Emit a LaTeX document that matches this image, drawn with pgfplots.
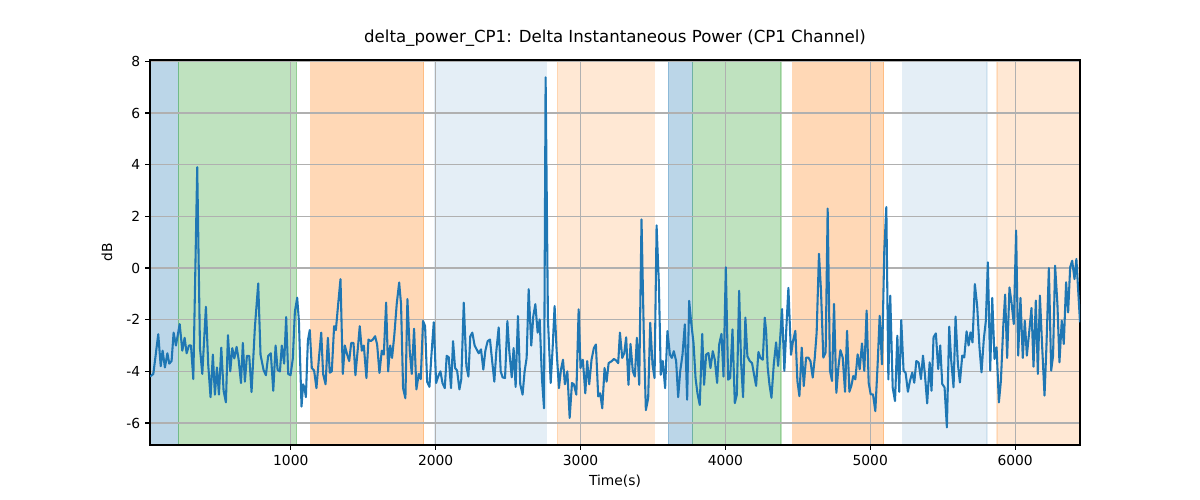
\documentclass[border=0pt]{standalone}
\usepackage{pgfplots}
\pgfplotsset{compat=1.18}
\usepackage{fontspec}
\setmainfont{DejaVu Sans}
\definecolor{tabblue}{RGB}{31,119,180}
\definecolor{tabgreen}{RGB}{44,160,44}
\definecolor{taborange}{RGB}{255,127,14}
\definecolor{gridgray}{RGB}{176,176,176}
\begin{document}
\begin{tikzpicture}
\begin{axis}[
  set layers,
  at={(0,0)}, anchor=south west,
  scale only axis, width=9.3in, height=3.85in,
  xmin=28, xmax=6448, ymin=-6.85, ymax=8.05,
  xtick={1000,2000,3000,4000,5000,6000},
  ytick={-6,-4,-2,0,2,4,6,8},
  xtick pos=lower, ytick pos=left,
  tick align=outside, major tick length=3.5pt,
  tick style={black, line width=0.8pt},
  axis line style={line width=0.8pt},
  grid=major, grid style={gridgray, line width=0.8pt},
  /pgf/number format/assume math mode=true,
  /pgf/number format/set thousands separator={},
  tick label style={font=\fontsize{10}{12}\selectfont},
  title={delta\_power\_CP1: Delta Instantaneous Power (CP1 Channel)},
  title style={at={(axis description cs:0.5,1.0364)}, anchor=center, font=\fontsize{12}{14}\selectfont},
  xlabel={Time(s)},
  xlabel style={at={(axis description cs:0.5,-0.0935)}, anchor=center, font=\fontsize{10}{12}\selectfont},
  ylabel={dB},
  ylabel style={at={(axis description cs:-0.0462,0.5)}, anchor=center, rotate=0, font=\fontsize{10}{12}\selectfont},
]
\addplot[on layer=axis background, fill=tabblue, fill opacity=0.3, draw=tabblue, draw opacity=0.3, line width=1pt, forget plot] coordinates {(28,-6.85) (223,-6.85) (223,8.05) (28,8.05)} -- cycle;
\addplot[on layer=axis background, fill=tabgreen, fill opacity=0.3, draw=tabgreen, draw opacity=0.3, line width=1pt, forget plot] coordinates {(223,-6.85) (1040,-6.85) (1040,8.05) (223,8.05)} -- cycle;
\addplot[on layer=axis background, fill=taborange, fill opacity=0.3, draw=taborange, draw opacity=0.3, line width=1pt, forget plot] coordinates {(1138,-6.85) (1917,-6.85) (1917,8.05) (1138,8.05)} -- cycle;
\addplot[on layer=axis background, fill=tabblue, fill opacity=0.12, draw=tabblue, draw opacity=0.12, line width=1pt, forget plot] coordinates {(1993,-6.85) (2764,-6.85) (2764,8.05) (1993,8.05)} -- cycle;
\addplot[on layer=axis background, fill=taborange, fill opacity=0.18, draw=taborange, draw opacity=0.18, line width=1pt, forget plot] coordinates {(2840,-6.85) (3510,-6.85) (3510,8.05) (2840,8.05)} -- cycle;
\addplot[on layer=axis background, fill=tabblue, fill opacity=0.3, draw=tabblue, draw opacity=0.3, line width=1pt, forget plot] coordinates {(3607,-6.85) (3775,-6.85) (3775,8.05) (3607,8.05)} -- cycle;
\addplot[on layer=axis background, fill=tabgreen, fill opacity=0.3, draw=tabgreen, draw opacity=0.3, line width=1pt, forget plot] coordinates {(3775,-6.85) (4384,-6.85) (4384,8.05) (3775,8.05)} -- cycle;
\addplot[on layer=axis background, fill=taborange, fill opacity=0.3, draw=taborange, draw opacity=0.3, line width=1pt, forget plot] coordinates {(4465,-6.85) (5092,-6.85) (5092,8.05) (4465,8.05)} -- cycle;
\addplot[on layer=axis background, fill=tabblue, fill opacity=0.12, draw=tabblue, draw opacity=0.12, line width=1pt, forget plot] coordinates {(5223,-6.85) (5807,-6.85) (5807,8.05) (5223,8.05)} -- cycle;
\addplot[on layer=axis background, fill=taborange, fill opacity=0.18, draw=taborange, draw opacity=0.18, line width=1pt, forget plot] coordinates {(5876,-6.85) (6448,-6.85) (6448,8.05) (5876,8.05)} -- cycle;
\addplot[tabblue, line width=1.5pt, line join=round, no marks] table {
x y
28 -4.2
51 -4.1
85 -2.56
102 -3.8
115 -3.2
131 -3.85
148 -3.3
161 -3.7
177 -3.6
191 -2.5
207 -3.0
233 -2.17
251 -3.2
267 -2.7
281 -3.3
297 -3.0
311 -3.0
327 -4.3
354 3.9
373 -3.1
389 -4.1
414 -1.5
430 -3.75
446 -5.0
462 -3.35
476 -4.9
490 -3.85
504 -4.9
520 -3.08
536 -4.75
552 -5.2
566 -2.6
582 -4.0
596 -3.1
610 -3.5
626 -3.05
640 -3.55
656 -4.45
669 -2.9
683 -4.4
697 -3.4
713 -3.4
729 -4.8
752 -2.3
775 -0.6
791 -3.36
812 -3.95
828 -4.15
844 -3.4
862 -3.3
879 -4.75
895 -3.0
909 -3.95
925 -4.0
938 -3.0
954 -3.7
968 -1.9
982 -4.1
998 -4.15
1014 -3.5
1028 -1.7
1044 -1.15
1056 -2.05
1074 -5.36
1085 -4.5
1095 -4.65
1104 -5.0
1118 -2.8
1131 -2.4
1145 -3.87
1161 -3.97
1177 -4.65
1194 -3.5
1210 -2.5
1223 -4.1
1240 -4.5
1256 -2.7
1269 -4.05
1283 -4.0
1299 -2.25
1311 -2.4
1327 -1.4
1343 -0.43
1359 -4.1
1373 -3.0
1389 -3.35
1403 -3.6
1417 -2.9
1433 -2.9
1446 -4.15
1463 -3.1
1476 -2.25
1490 -3.2
1504 -3.0
1522 -4.26
1536 -2.77
1552 -2.83
1566 -2.77
1582 -2.64
1596 -2.96
1612 -4.06
1628 -3.2
1642 -3.35
1658 -1.34
1672 -4.0
1686 -3.0
1699 -3.48
1715 -2.57
1731 -1.4
1748 -0.56
1761 -1.4
1775 -4.65
1791 -5.04
1805 -1.2
1821 -3.2
1835 -4.1
1851 -2.35
1867 -4.7
1883 -4.1
1897 -4.3
1913 -2.05
1927 -2.25
1941 -4.4
1957 -4.6
1971 -3.35
1987 -2.1
2003 -4.45
2017 -4.2
2033 -4.0
2047 -4.45
2063 -4.65
2076 -3.4
2090 -3.45
2106 -4.65
2120 -2.83
2134 -3.87
2148 -3.97
2164 -4.7
2177 -4.3
2194 -1.34
2212 -3.8
2226 -4.2
2239 -2.64
2253 -2.5
2269 -3.0
2283 -3.15
2297 -3.3
2313 -3.15
2329 -3.93
2343 -3.2
2359 -2.83
2375 -2.77
2389 -3.55
2405 -4.4
2419 -3.2
2435 -2.3
2449 -4.0
2462 -4.23
2479 -4.26
2495 -2.05
2508 -3.2
2525 -4.23
2538 -3.1
2552 -4.6
2568 -1.86
2584 -4.5
2600 -4.9
2614 -4.0
2628 -3.48
2642 -0.82
2660 -3.0
2674 -1.86
2688 -1.4
2704 -2.5
2718 -1.99
2734 -4.3
2748 -5.43
2759 7.38
2775 -1.99
2794 -4.45
2807 -3.15
2821 -1.47
2835 -3.2
2851 -4.65
2865 -3.93
2879 -3.55
2892 -4.5
2909 -4.0
2925 -5.8
2941 -4.45
2954 -4.5
2971 -4.9
2987 -1.6
3000 -3.87
3016 -3.55
3033 -4.85
3046 -3.6
3060 -4.5
3076 -3.55
3092 -3.1
3106 -2.96
3122 -4.97
3136 -4.85
3150 -5.43
3166 -3.87
3180 -4.4
3194 -3.68
3217 -3.6
3230 -3.52
3246 -3.58
3260 -3.68
3272 -2.5
3288 -3.48
3302 -3.29
3315 -2.68
3331 -4.52
3345 -2.94
3361 -4.0
3375 -4.2
3389 -2.7
3405 -4.52
3421 1.88
3437 -2.64
3451 -5.5
3467 -5.04
3481 -2.12
3497 -3.74
3511 -4.26
3525 1.65
3541 -0.62
3554 -4.13
3568 -3.6
3584 -4.65
3600 -2.44
3617 -3.35
3630 -3.48
3644 -3.22
3660 -3.6
3674 -5.0
3688 -4.0
3704 -3.35
3720 -2.18
3736 -5.1
3750 -1.27
3764 -2.12
3780 -2.9
3794 -4.26
3807 -4.84
3823 -5.3
3840 -2.55
3853 -4.52
3867 -3.35
3883 -3.29
3897 -3.87
3913 -3.22
3927 -3.55
3943 -4.45
3957 -2.96
3973 -2.55
3987 -4.2
4003 0.03
4019 -4.32
4033 -4.26
4049 -2.38
4065 -5.23
4079 -4.9
4095 -0.88
4108 -3.6
4122 -5.0
4138 -1.92
4152 -3.42
4168 -3.6
4184 -3.68
4198 -4.13
4212 -4.56
4228 -3.25
4242 -3.48
4258 -3.55
4272 -1.92
4281 -2.43
4292 -3.85
4304 -4.5
4318 -5.02
4334 -3.73
4350 -2.88
4364 -3.79
4377 -2.82
4391 -1.59
4407 -3.98
4421 -2.3
4435 -0.77
4453 -3.36
4467 -2.82
4483 -2.43
4497 -4.37
4511 -4.96
4527 -3.08
4541 -4.57
4557 -3.47
4573 -3.47
4587 -3.6
4603 -4.24
4617 -3.47
4630 -2.5
4646 0.55
4660 -0.88
4676 -3.47
4692 -3.27
4706 2.3
4722 -3.98
4736 -4.37
4750 -1.39
4766 -4.83
4780 -3.85
4794 -3.18
4810 -3.47
4826 -4.79
4840 -2.43
4856 -4.79
4869 -4.57
4883 -4.18
4897 -4.31
4913 -3.34
4927 -3.92
4943 -2.92
4959 -3.98
4975 -1.65
4989 -4.44
5003 -4.89
5019 -4.89
5035 -5.54
5051 -3.73
5065 -1.85
5081 -3.73
5097 0.68
5111 2.36
5125 -4.31
5138 -1.07
5155 -4.63
5171 -5.15
5187 -2.62
5200 -4.79
5214 -2.02
5230 -3.98
5244 -4.05
5260 -4.79
5274 -4.37
5290 -4.05
5304 -4.44
5318 -3.6
5334 -3.66
5350 -4.3
5364 -3.39
5377 -4.1
5393 -5.24
5410 -3.65
5423 -4.75
5437 -2.68
5453 -2.53
5469 -3.91
5483 -3.0
5497 -4.49
5513 -4.62
5529 -6.17
5545 -2.27
5559 -3.59
5575 -4.62
5589 -1.88
5605 -3.72
5619 -4.43
5635 -3.39
5649 -3.46
5665 -2.45
5679 -3.0
5692 -2.49
5706 -2.88
5722 -0.62
5738 -1.46
5754 -3.07
5768 -4.04
5784 -2.75
5798 -2.04
5812 0.22
5828 -3.97
5842 -1.16
5858 -3.52
5872 -3.07
5888 -5.2
5902 -4.36
5918 -2.27
5931 -1.03
5945 -3.48
5961 -0.75
5975 -1.33
5991 -2.17
6007 1.45
6021 -3.39
6037 -1.16
6053 -3.48
6067 -2.04
6081 -3.39
6097 -2.49
6113 -1.55
6127 -3.82
6143 -1.26
6157 -4.1
6171 -1.07
6187 -3.07
6203 -4.94
6216 -3.07
6233 0.0
6249 -3.97
6262 -3.39
6276 0.09
6292 -1.39
6306 -3.65
6322 -2.04
6336 -2.94
6352 -0.55
6366 -1.72
6380 0.03
6394 0.28
6410 -0.43
6423 0.35
6448 -2.1
};
\end{axis}
\path[use as bounding box] (-1.5in,-0.55in) rectangle (10.5in,4.45in);
\end{tikzpicture}
\end{document}
